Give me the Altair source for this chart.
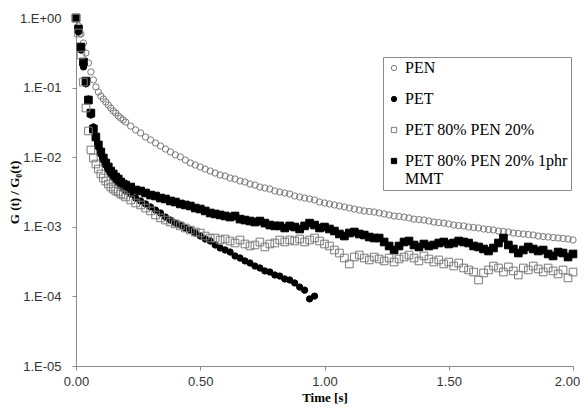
import altair as alt
import pandas as pd

series_names = ["PEN", "PET", "PET 80% PEN 20%", "PET 80% PEN 20% 1phr MMT"]

x_ticks = [0.0, 0.5, 1.0, 1.5, 2.0]
y_ticks = [1, 1e-1, 1e-2, 1e-3, 1e-4, 1e-5]

time = [0.00, 0.01, 0.02, 0.03, 0.04, 0.05, 0.06, 0.07, 0.08, 0.09, 0.10,
        0.11, 0.12, 0.13, 0.14, 0.15, 0.16, 0.17, 0.18, 0.19, 0.20,
        0.22, 0.24, 0.26, 0.28, 0.30, 0.32, 0.34, 0.36, 0.38, 0.40,
        0.42, 0.44, 0.46, 0.48, 0.50, 0.52, 0.54, 0.56, 0.58, 0.60,
        0.62, 0.64, 0.66, 0.68, 0.70, 0.72, 0.74, 0.76, 0.78, 0.80,
        0.82, 0.84, 0.86, 0.88, 0.90, 0.92, 0.94, 0.96, 0.98, 1.00,
        1.02, 1.04, 1.06, 1.08, 1.10, 1.12, 1.14, 1.16, 1.18, 1.20,
        1.22, 1.24, 1.26, 1.28, 1.30, 1.32, 1.34, 1.36, 1.38, 1.40,
        1.42, 1.44, 1.46, 1.48, 1.50, 1.52, 1.54, 1.56, 1.58, 1.60,
        1.62, 1.64, 1.66, 1.68, 1.70, 1.72, 1.74, 1.76, 1.78, 1.80,
        1.82, 1.84, 1.86, 1.88, 1.90, 1.92, 1.94, 1.96, 1.98, 2.00]

pen = [1.0, 0.767, 0.589, 0.437, 0.314, 0.226, 0.168, 0.129, 0.102, 0.0864, 0.0757,
       0.0686, 0.0621, 0.0562, 0.0509, 0.0461, 0.0431, 0.0391, 0.0365, 0.0342, 0.0320,
       0.0280, 0.0246, 0.0223, 0.0195, 0.0177, 0.0160, 0.0145, 0.0131, 0.0119, 0.0108,
       0.0101, 0.00911, 0.00825, 0.00772, 0.00723, 0.00677, 0.00633, 0.00593, 0.00555, 0.00537,
       0.00502, 0.00486, 0.00455, 0.00440, 0.00412, 0.00398, 0.00373, 0.00361, 0.00349, 0.00327,
       0.00316, 0.00306, 0.00296, 0.00277, 0.00268, 0.00259, 0.00251, 0.00243, 0.00227, 0.00220,
       0.00213, 0.00206, 0.00199, 0.00193, 0.00186, 0.00180, 0.00174, 0.00169, 0.00166, 0.00163,
       0.00158, 0.00153, 0.00148, 0.00143, 0.00141, 0.00138, 0.00134, 0.00129, 0.00127, 0.00125,
       0.00121, 0.00117, 0.00115, 0.00113, 0.00110, 0.00106, 0.00104, 0.00103, 0.000993, 0.000978,
       0.000961, 0.000930, 0.000915, 0.000900, 0.000870, 0.000856, 0.000842, 0.000814, 0.000801, 0.000788,
       0.000775, 0.000762, 0.000737, 0.000725, 0.000713, 0.000701, 0.000690, 0.000679, 0.000668, 0.000646]

pet = [1.0, 0.629, 0.347, 0.198, 0.113, 0.0686, 0.0404, 0.0272, 0.0189, 0.0140, 0.0111,
       0.00911, 0.00772, 0.00655, 0.00574, 0.00519, 0.00470, 0.00426, 0.00385, 0.00361, 0.00327,
       0.00296, 0.00259, 0.00235, 0.00213, 0.00193, 0.00174, 0.00158, 0.00138, 0.00125, 0.00113,
       0.00106, 0.000961, 0.000900, 0.000814, 0.000737, 0.000668, 0.000625, 0.000548, 0.000496, 0.000464,
       0.000434, 0.000381, 0.000356, 0.000323, 0.000302, 0.000273, 0.000256, 0.000232, 0.000224, 0.000203,
       0.000196, 0.000178, 0.000172, 0.000156, 0.000136, 0.000123, 0.000092, 0.000101]

blend = [1.0, 0.609, 0.294, 0.120, 0.0509, 0.0238, 0.0127, 0.00974, 0.00798, 0.00677, 0.00574,
         0.00502, 0.00455, 0.00412, 0.00373, 0.00349, 0.00327, 0.00316, 0.00296, 0.00286, 0.00268,
         0.00243, 0.00220, 0.00206, 0.00186, 0.00169, 0.00148, 0.00134, 0.00125, 0.00117, 0.00110,
         0.00103, 0.000961, 0.000900, 0.000842, 0.000814, 0.000737, 0.000690, 0.000690, 0.000646, 0.000668,
         0.000625, 0.000585, 0.000646, 0.000566, 0.000530, 0.000548, 0.000605, 0.000513, 0.000566, 0.000585,
         0.000646, 0.000605, 0.000646, 0.000625, 0.000668, 0.000605, 0.000646, 0.000690, 0.000625, 0.000566,
         0.000530, 0.000464, 0.000420, 0.000356, 0.000292, 0.000368, 0.000393, 0.000356, 0.000334, 0.000368,
         0.000345, 0.000323, 0.000356, 0.000312, 0.000345, 0.000368, 0.000393, 0.000356, 0.000323, 0.000381,
         0.000345, 0.000312, 0.000334, 0.000292, 0.000312, 0.000273, 0.000302, 0.000256, 0.000240, 0.000224,
         0.000172, 0.000217, 0.000240, 0.000273, 0.000256, 0.000224, 0.000265, 0.000232, 0.000203, 0.000256,
         0.000240, 0.000273, 0.000248, 0.000224, 0.000256, 0.000232, 0.000210, 0.000240, 0.000184, 0.000224]

blend_mmt = [1.0, 0.695, 0.383, 0.233, 0.124, 0.0663, 0.0431, 0.0254, 0.0195, 0.0150, 0.0119,
             0.00974, 0.00825, 0.00723, 0.00633, 0.00574, 0.00519, 0.00486, 0.00440, 0.00412, 0.00398,
             0.00373, 0.00338, 0.00327, 0.00306, 0.00286, 0.00277, 0.00259, 0.00251, 0.00235, 0.00227,
             0.00213, 0.00206, 0.00199, 0.00186, 0.00180, 0.00169, 0.00158, 0.00153, 0.00148, 0.00143,
             0.00138, 0.00143, 0.00129, 0.00125, 0.00121, 0.00117, 0.00121, 0.00113, 0.00106, 0.00103,
             0.00103, 0.000961, 0.00103, 0.000993, 0.000930, 0.00103, 0.00113, 0.00106, 0.000961, 0.000993,
             0.000930, 0.000870, 0.000788, 0.000737, 0.000814, 0.000842, 0.000788, 0.000762, 0.000713, 0.000690,
             0.000690, 0.000605, 0.000530, 0.000464, 0.000530, 0.000605, 0.000625, 0.000548, 0.000513, 0.000566,
             0.000530, 0.000548, 0.000585, 0.000605, 0.000566, 0.000585, 0.000625, 0.000605, 0.000585, 0.000530,
             0.000513, 0.000480, 0.000449, 0.000496, 0.000585, 0.000690, 0.000548, 0.000480, 0.000420, 0.000464,
             0.000513, 0.000480, 0.000449, 0.000464, 0.000407, 0.000381, 0.000434, 0.000420, 0.000368, 0.000407]

draw_order = [("PEN", pen), ("PET", pet),
              ("PET 80% PEN 20% 1phr MMT", blend_mmt), ("PET 80% PEN 20%", blend)]
rows = []
for name, vals in draw_order:
    for t, g in zip(time, vals):
        rows.append({"t": t, "g": g, "s": name})
df = pd.DataFrame(rows)

legend = alt.Legend(
    title=None, orient="none", legendX=307, legendY=39,
    padding=3, strokeColor="#8a8a8a", fillColor="white",
    labelFont="Liberation Serif", labelFontSize=16, labelColor="black",
    labelLimit=400, labelOffset=3, symbolStrokeWidth=1, symbolSize=28,
    rowPadding=15,
    labelExpr="datum.label == 'PET 80% PEN 20% 1phr MMT' ? ['PET 80% PEN 20% 1phr', 'MMT'] : datum.label",
)

enc = dict(
    x=alt.X("t:Q", scale=alt.Scale(domain=[0, 2], nice=False, zero=False),
            axis=alt.Axis(values=x_ticks, format=".2f", title="Time [s]",
                          labelFlush=False, labelPadding=5, titlePadding=3,
                          titleFontSize=13,
                          labelOffset={"condition": {"test": "datum.value >= 2", "value": -6},
                                       "value": 0})),
    y=alt.Y("g:Q", scale=alt.Scale(type="log", domain=[1e-5, 1], nice=False),
            axis=alt.Axis(values=y_ticks, title="G (t) / G₀(t)",
                          labelExpr="datum.value >= 0.999 ? '1.E+00' : '1.E-0' + format(-log(datum.value) / LN10, '.0f')",
                          labelFlush=False, labelPadding=11, titleX=-55, titleFontSize=13)),
    shape=alt.Shape("s:N", scale=alt.Scale(domain=series_names,
                                           range=["circle", "circle", "square", "square"]),
                    legend=legend),
    fill=alt.Fill("s:N", scale=alt.Scale(domain=series_names,
                                         range=["transparent", "black", "transparent", "black"]),
                  legend=legend),
    stroke=alt.Stroke("s:N", scale=alt.Scale(domain=series_names,
                                             range=["#7a7a7a", "black", "#7a7a7a", "black"]),
                      legend=legend),
)

base = alt.Chart(df)
circles = base.transform_filter(
    alt.FieldOneOfPredicate(field="s", oneOf=["PEN", "PET"])
).mark_point(strokeWidth=1, opacity=1, size=40).encode(**enc)
squares = base.transform_filter(
    alt.FieldOneOfPredicate(field="s", oneOf=["PET 80% PEN 20%", "PET 80% PEN 20% 1phr MMT"])
).mark_point(strokeWidth=1, opacity=1, size=58).encode(**enc)

chart = alt.layer(circles, squares).properties(
    width=497, height=348,
    autosize=alt.AutoSizeParams(type="none"),
    padding={"left": 68, "top": 10, "right": 7, "bottom": 39},
).configure_view(
    strokeWidth=0
).configure_axis(
    grid=False, domainColor="#8c8c8c", tickColor="#8c8c8c", tickSize=4,
    labelFont="Liberation Sans", labelFontSize=13, labelColor="#333333",
    titleFont="Liberation Serif", titleFontSize=14, titleFontWeight="bold",
    titleColor="black",
).configure_legend(
    labelFont="Liberation Serif", labelFontSize=16
)

chart.save("out.html", embed_options={"renderer": "svg", "actions": False})
